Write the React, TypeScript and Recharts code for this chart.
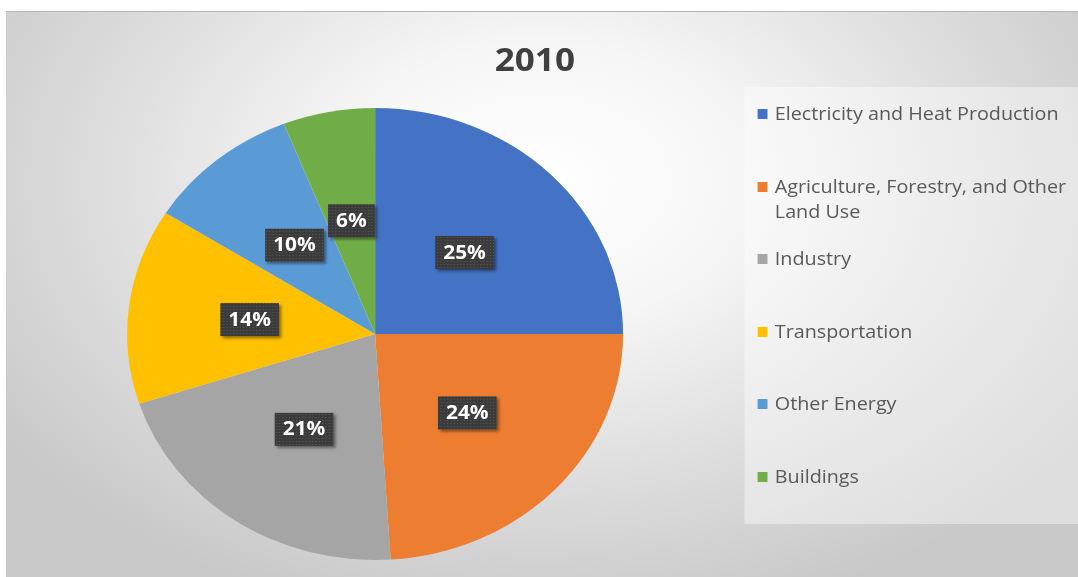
import React from "react";
import { PieChart, Pie, Cell, Legend } from "recharts";

// data
const SECTORS = [
  "Electricity and Heat Production",
  "Agriculture, Forestry, and Other Land Use",
  "Industry",
  "Transportation",
  "Other Energy",
  "Buildings",
];
const SHARES = [25, 24, 21, 14, 10, 6];
const COLORS = ["#4472C4", "#ED7D31", "#A5A5A5", "#FFC000", "#5B9BD5", "#70AD47"];
const TITLE = "2010";

// the reference is a bit wider than tall, so draw at IW and stretch
const IW = 977;
const IH = 566;
const S = 1072 / IW;

const FONT = "'Open Sans', sans-serif";
const RADIAN = Math.PI / 180;

const data = SECTORS.map((name, i) => ({ name, value: SHARES[i] }));

function textWidth(t: string, size: number) {
  let w = 0;
  for (const ch of t) w += ch === "%" ? 0.88 : 0.572;
  return w * size;
}

function PctLabel(props: any) {
  const { cx, cy, midAngle, outerRadius, percent } = props;
  const r = outerRadius * 0.51;
  const x = cx + r * Math.cos(-midAngle * RADIAN);
  const y = cy + r * Math.sin(-midAngle * RADIAN);
  const txt = `${Math.round(percent * 100)}%`;
  const w = textWidth(txt, 19) + 15;
  const h = 33;
  return (
    <g>
      <rect
        x={x - w / 2}
        y={y - h / 2}
        width={w}
        height={h}
        fill="url(#lblDots)"
        filter="url(#lblShadow)"
      />
      <text
        x={x}
        y={y + 1}
        textAnchor="middle"
        dominantBaseline="middle"
        fill="#ffffff"
        fontSize={19}
        fontWeight={700}
        fontFamily={FONT}
      >
        {txt}
      </text>
    </g>
  );
}

function LegendBox(props: any) {
  const payload = [...(props.payload || [])].sort(
    (a: any, b: any) => SECTORS.indexOf(a.value) - SECTORS.indexOf(b.value)
  );
  return (
    <div style={{ paddingTop: 14, fontFamily: FONT }}>
      {payload.map((p: any) => (
        <div key={p.value} style={{ height: 72.5, display: "flex", alignItems: "flex-start" }}>
          <span
            style={{
              width: 9,
              height: 10,
              marginLeft: 12,
              marginTop: 8,
              marginRight: 7,
              background: COLORS[SECTORS.indexOf(p.value)],
              flex: "none",
            }}
          />
          <span
            style={{
              width: 272,
              fontSize: 18,
              lineHeight: "25px",
              color: "#595959",
            }}
          >
            {p.value}
          </span>
        </div>
      ))}
    </div>
  );
}

export default function App() {
  return (
    <div
      style={{
        position: "absolute",
        left: 0,
        top: 0,
        width: 1078,
        height: 577,
        background: "#ffffff",
        overflow: "hidden",
      }}
    >
      <div
        style={{
          position: "absolute",
          left: 6,
          top: 11,
          width: 1072,
          height: 566,
          borderTop: "1px solid #b8b8b8",
          boxSizing: "border-box",
          background:
            "radial-gradient(ellipse 62% 80% at 50% 30%, #ffffff 0%, #f6f6f6 30%, #dedede 65%, #c8c8c8 100%)",
        }}
      >
        <div style={{ width: IW, height: IH, transform: `scaleX(${S})`, transformOrigin: "0 0" }}>
          <PieChart width={IW} height={IH} margin={{ top: 0, right: 0, bottom: 0, left: 0 }}>
            <defs>
              <pattern id="lblDots" width="3" height="3" patternUnits="userSpaceOnUse">
                <rect width="3" height="3" fill="#3a3a3a" />
                <rect width="1" height="1" fill="#575757" />
              </pattern>
              <filter id="lblShadow" x="-20%" y="-20%" width="150%" height="160%">
                <feDropShadow dx="2" dy="2" stdDeviation="1.5" floodColor="#000" floodOpacity="0.45" />
              </filter>
            </defs>
            <text
              x={482}
              y={59}
              textAnchor="middle"
              fontSize={32}
              fontWeight={700}
              fill="#404040"
              fontFamily={FONT}
            >
              {TITLE}
            </text>
            <Pie
              data={data}
              dataKey="value"
              nameKey="name"
              cx={336.4}
              cy={322}
              outerRadius={226}
              startAngle={90}
              endAngle={-270}
              stroke="none"
              labelLine={false}
              label={PctLabel}
              isAnimationActive={false}
            >
              {data.map((d, i) => (
                <Cell key={d.name} fill={COLORS[i]} />
              ))}
            </Pie>
            <Legend
              layout="vertical"
              content={LegendBox}
              wrapperStyle={{
                position: "absolute",
                left: 672.7,
                top: 75,
                width: 304,
                height: 437,
                background: "rgba(255,255,255,0.4)",
              }}
            />
          </PieChart>
        </div>
      </div>
    </div>
  );
}
